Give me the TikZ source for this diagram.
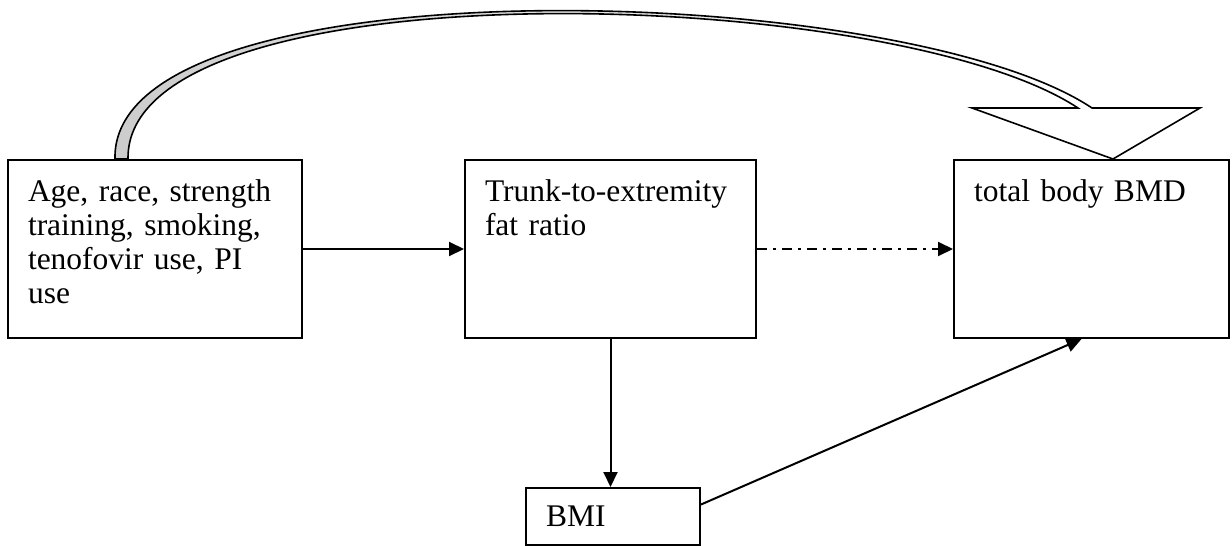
\documentclass[tikz,border=0pt]{standalone}
\usepackage{fontspec}
\setmainfont{Liberation Serif}
\usetikzlibrary{arrows.meta}
\usetikzlibrary{calc}
\usetikzlibrary{positioning}

\begin{document}
\begin{tikzpicture}[x=0.5pt, y=-0.5pt]

    \useasboundingbox (0,0) rectangle (1232,546);

    % boxes
    \begin{scope}[every node/.style={draw, line width=1pt, anchor=north west,
                  inner xsep=0pt, inner ysep=0pt, align=left,
                  font=\fontsize{15.75}{17.15}\selectfont,
                  execute at begin node={\leftskip=10pt},
                  text height=20.5pt, text depth=68.5pt}]
        \node[text width=147pt] (agebox) at (7,159) {Age, race, strength\\training, smoking,\\tenofovir use, PI\\use};
        \node[text width=145.5pt] (ratiobox) at (464,159) {Trunk-to-extremity\\fat ratio};
        \node[text width=137.5pt] (bmdbox) at (953,159) {total body BMD};
        \node[text width=87pt, text height=19pt, text depth=9.5pt] (bmibox) at (525,487) {BMI};
    \end{scope}

    % arrows
    \begin{scope}[every edge/.style={draw, line width=1pt, -{Triangle[length=7.5pt, width=7pt]}}]
        \path (agebox) edge (ratiobox);
        \path (ratiobox.south) edge (ratiobox.south |- bmibox.north);
        \path ($(bmibox.east)+(0,-12)$) edge ($(bmdbox.south)+(-10,0)$);
        \path[dash pattern=on 5pt off 3pt on 1.5pt off 3pt] (ratiobox) edge (bmdbox);
    \end{scope}

    % curved block arrow
    \coordinate (outA) at ($(agebox.north west)+(108,0)$);
    \coordinate (inA) at ($(agebox.north west)+(121,0)$);
    \coordinate (headL) at ($(bmdbox.north west)+(19,-51)$);
    \coordinate (inB) at ($(bmdbox.north west)+(125,-51)$);
    \coordinate (outB) at ($(bmdbox.north west)+(139,-51)$);
    \coordinate (headR) at ($(bmdbox.north west)+(247,-51)$);
    \coordinate (tip) at ($(bmdbox.north west)+(160,0)$);

    \shade[left color=gray!40, right color=white]
        (outA) .. controls +(-5,-199) and +(-192,-128) .. (outB) -- (inB)
        .. controls +(-188,-124) and +(-3,-195) .. (inA) -- cycle;
    \draw[line width=0.8pt]
        (headL) -- (inB) .. controls +(-188,-124) and +(-3,-195) .. (inA) -- (outA)
        .. controls +(-5,-199) and +(-192,-128) .. (outB) -- (headR) -- (tip) -- cycle;

\end{tikzpicture}
\end{document}
